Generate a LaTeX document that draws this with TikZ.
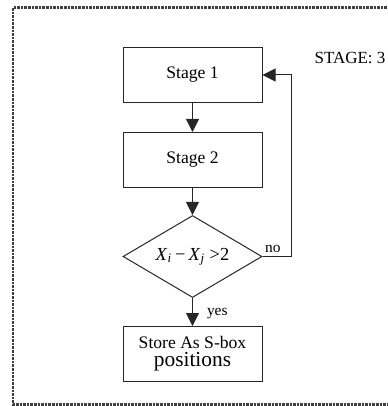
\documentclass[tikz,border=0pt]{standalone}
\usepackage{fontspec}
\setmainfont{Liberation Serif}
\usepackage{tikz}
\usetikzlibrary{shapes.geometric,arrows.meta,positioning}

\begin{document}
\begin{tikzpicture}[semithick]
        \tikzstyle{stagebox} = [draw=black!85,line width=0.5pt,minimum width=69.5pt,minimum height=27.5pt,inner sep=0pt,font=\fontsize{8.8}{10}\selectfont]
        \tikzstyle{decision} = [draw=black!85,line width=0.5pt,shape=diamond,aspect=1.7,minimum width=69.5pt,minimum height=41pt,inner sep=0pt,font=\fontsize{9.2}{11}\selectfont]
        \tikzstyle{flow} = [draw=black!85,line width=0.5pt,-{Triangle[length=6.5pt,width=6.5pt]}]
        \tikzstyle{frame} = [draw=black!75,line width=1.2pt,dash pattern=on 1.3pt off 0.5pt]
        \tikzstyle{small} = [font=\fontsize{7.7}{9}\selectfont,inner sep=1pt]
        %
        \useasboundingbox (0,0) rectangle (193.5pt,-203pt);
        % Dashed frame, open to the right.
        \coordinate (fr1) at (193.5pt,-3.8pt);
        \coordinate (fr2) at (6.5pt,-3.8pt);
        \coordinate (fr3) at (6.5pt,-202.3pt);
        \coordinate (fr4) at (193.5pt,-202.3pt);
        \draw[frame] (fr1) -- (fr2) -- (fr3) -- (fr4);
        % Flow chart.
        \node[stagebox] (s1) at (96.25pt,-37.5pt) {Stage 1};
        \node[stagebox,below=14.5pt of s1] (s2) {Stage 2};
        \node[decision,below=13.5pt of s2] (dec) {\textit{X}\textsubscript{\textit{i}}\,−\,\textit{X}\textsubscript{\textit{j}} >2};
        \node[stagebox,below=14pt of dec,align=center] (store) {Store As S-box\\[-1pt]{\fontsize{10.7}{12}\selectfont positions}};
        \node[font=\fontsize{8.5}{10}\selectfont] (stage) at (175pt,-29pt) {STAGE: 3};
        % Connectors.
        \draw[flow] (s1) -- (s2);
        \draw[flow] (s2) -- (dec);
        \draw[flow] (dec) -- node[small,pos=.55,anchor=west,xshift=6pt] (yes) {yes} (store);
        \draw[flow] (dec.east) -- ++(14.5pt,0) |- (s1.east);
        \node[small,anchor=south west,yshift=0.5pt] (no) at (dec.east) {no};
        %
\end{tikzpicture}
\end{document}
